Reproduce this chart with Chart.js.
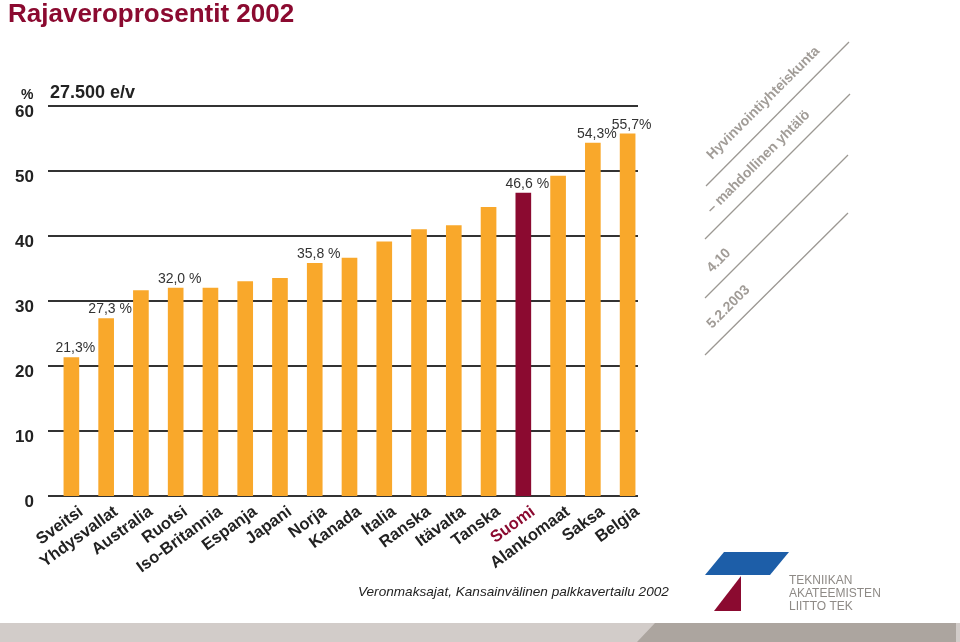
<!DOCTYPE html>
<html>
<head>
<meta charset="utf-8">
<script src="https://cdn.jsdelivr.net/npm/chart.js@4.4.0/dist/chart.umd.min.js"></script>
<style>
  html, body { margin: 0; padding: 0; background: #fff; }
  #wrap { width: 960px; height: 642px; position: relative; }
</style>
</head>
<body>
<div id="wrap"><canvas id="chart" width="960" height="642"></canvas></div>
<script>
// data
const countries = ['Sveitsi', 'Yhdysvallat', 'Australia', 'Ruotsi', 'Iso-Britannia', 'Espanja', 'Japani', 'Norja',
  'Kanada', 'Italia', 'Ranska', 'Itävalta', 'Tanska', 'Suomi', 'Alankomaat', 'Saksa', 'Belgia'];
const rates = [21.3, 27.3, 31.6, 32.0, 32.0, 33.0, 33.5, 35.8, 36.6, 39.1, 41.0, 41.6, 44.4, 46.6, 49.2, 54.3, 55.7];
const rateLabels = ['21,3%', '27,3 %', '', '32,0 %', '', '', '', '35,8 %', '', '', '', '', '', '46,6 %', '', '54,3%', '55,7%'];
const yTicks = [0, 10, 20, 30, 40, 50, 60];
const highlight = 'Suomi';

const ORANGE = '#f9a82b';
const MAROON = '#8b0a30';
const INK = '#222';

const gridPlugin = {
  id: 'gridLines',
  beforeDatasetsDraw(chart) {
    const { ctx, chartArea, scales } = chart;
    ctx.save();
    ctx.strokeStyle = '#333';
    ctx.lineWidth = 2;
    yTicks.forEach(v => {
      const y = Math.round(scales.y.getPixelForValue(v));
      ctx.beginPath();
      ctx.moveTo(chartArea.left - 6, y);
      ctx.lineTo(chartArea.right - 7, y);
      ctx.stroke();
    });
    ctx.restore();
  }
};

const valueLabels = {
  id: 'valueLabels',
  afterDatasetsDraw(chart) {
    const { ctx } = chart;
    const bars = chart.getDatasetMeta(0).data;
    ctx.save();
    ctx.font = '14px "Liberation Sans", Arial, sans-serif';
    ctx.fillStyle = '#333';
    ctx.textAlign = 'center';
    ctx.textBaseline = 'bottom';
    bars.forEach((bar, i) => {
      if (!rateLabels[i]) return;
      ctx.fillText(rateLabels[i], bar.x + 4, bar.y - 2);
    });
    ctx.restore();
  }
};

const decor = {
  id: 'decor',
  afterDraw(chart) {
    const { ctx } = chart;
    ctx.save();

    // title
    ctx.fillStyle = MAROON;
    ctx.font = 'bold 26px "Liberation Sans", Arial, sans-serif';
    ctx.textBaseline = 'alphabetic';
    ctx.fillText('Rajaveroprosentit 2002', 8, 22);

    // unit + income level
    ctx.fillStyle = INK;
    ctx.font = 'bold 14px "Liberation Sans", Arial, sans-serif';
    ctx.fillText('%', 21, 99);
    ctx.font = 'bold 18px "Liberation Sans", Arial, sans-serif';
    ctx.fillText('27.500 e/v', 50, 98);

    // diagonal notes on the right
    ctx.strokeStyle = '#9c9893';
    ctx.lineWidth = 1.3;
    [[706, 186, 849, 42], [705, 239, 850, 94], [705, 298, 848, 155], [705, 355, 848, 213]].forEach(l => {
      ctx.beginPath();
      ctx.moveTo(l[0], l[1]);
      ctx.lineTo(l[2], l[3]);
      ctx.stroke();
    });
    ctx.fillStyle = '#a19c97';
    ctx.font = 'bold 14px "Liberation Sans", Arial, sans-serif';
    [['Hyvinvointiyhteiskunta', 712, 160], ['– mahdollinen yhtälö', 712, 214],
     ['4.10', 712, 273], ['5.2.2003', 712, 329]].forEach(t => {
      ctx.save();
      ctx.translate(t[1], t[2]);
      ctx.rotate(-Math.PI / 4);
      ctx.fillText(t[0], 0, 0);
      ctx.restore();
    });

    // source
    ctx.fillStyle = INK;
    ctx.font = 'italic 13.6px "Liberation Sans", Arial, sans-serif';
    ctx.fillText('Veronmaksajat, Kansainvälinen palkkavertailu 2002', 358, 596);

    // logo
    ctx.fillStyle = '#1d5ea8';
    ctx.beginPath();
    ctx.moveTo(724, 552); ctx.lineTo(789, 552); ctx.lineTo(770, 575); ctx.lineTo(705, 575);
    ctx.closePath(); ctx.fill();
    ctx.fillStyle = MAROON;
    ctx.beginPath();
    ctx.moveTo(741, 576); ctx.lineTo(741, 611); ctx.lineTo(714, 611);
    ctx.closePath(); ctx.fill();
    ctx.fillStyle = '#8e8a86';
    ctx.font = '12px "Liberation Sans", Arial, sans-serif';
    ctx.fillText('TEKNIIKAN', 789, 584);
    ctx.fillText('AKATEEMISTEN', 789, 597);
    ctx.fillText('LIITTO TEK', 789, 610);

    // footer band
    ctx.fillStyle = '#d2ccc9';
    ctx.fillRect(0, 623, 960, 19);
    ctx.fillStyle = '#aca59f';
    ctx.beginPath();
    ctx.moveTo(655, 623); ctx.lineTo(956, 623); ctx.lineTo(956, 642); ctx.lineTo(637, 642);
    ctx.closePath(); ctx.fill();

    ctx.restore();
  }
};

new Chart(document.getElementById('chart'), {
  type: 'bar',
  data: {
    labels: countries,
    datasets: [{
      data: rates,
      backgroundColor: countries.map(c => c === highlight ? MAROON : ORANGE),
      barThickness: 15,
      borderWidth: 0
    }]
  },
  options: {
    responsive: false,
    animation: false,
    devicePixelRatio: 1,
    layout: { padding: { top: 106, right: 315, bottom: 0, left: 0 } },
    plugins: {
      legend: { display: false },
      title: { display: false },
      tooltip: { enabled: false }
    },
    scales: {
      x: {
        type: 'category',
        offset: true,
        grid: { display: false, drawTicks: false },
        border: { display: false },
        ticks: {
          autoSkip: false,
          minRotation: 36,
          maxRotation: 36,
          padding: 6,
          labelOffset: 10,
          font: { family: '"Liberation Sans", Arial, sans-serif', size: 16.5, weight: 'bold' },
          color: ctx => countries[ctx.index] === highlight ? MAROON : INK
        },
        afterFit: s => { s.height = 146; }
      },
      y: {
        min: 0,
        max: 60,
        grid: { display: false, drawTicks: false },
        border: { display: false },
        ticks: {
          stepSize: 10,
          padding: 20,
          labelOffset: 6,
          font: { family: '"Liberation Sans", Arial, sans-serif', size: 17, weight: 'bold' },
          color: INK
        },
        afterFit: s => { s.width = 54; }
      }
    }
  },
  plugins: [gridPlugin, valueLabels, decor]
});
</script>
</body>
</html>
